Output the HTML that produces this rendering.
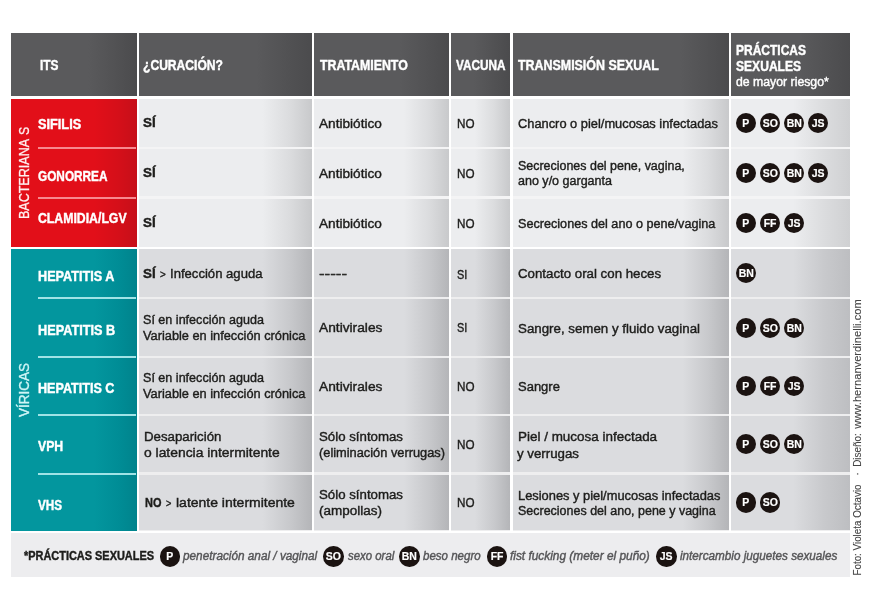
<!DOCTYPE html>
<html><head><meta charset="utf-8"><title>ITS</title><style>
html,body{margin:0;padding:0;background:#fff}
#c{will-change:transform;position:relative;width:875px;height:610px;overflow:hidden;background:#fff;font-family:"Liberation Sans",sans-serif}
#c div,#c span{position:absolute}
.t{white-space:nowrap;transform-origin:0 0;line-height:16px;height:16px;-webkit-text-stroke:0.42px currentColor}
.h{background:linear-gradient(to right,#5a5a5c 0%,#5a5a5c 55%,#4b4b4d 100%)}
.r{background:linear-gradient(to right,#e20f19 0%,#e20f19 66%,#d50f19 85%,#c60f19 100%)}
.v{background:linear-gradient(to right,#03969e 0%,#03969e 66%,#008d96 85%,#00838c 100%)}
.b{background:linear-gradient(to right,#ecedef 0%,#ecedef 68%,#c6c7c9 100%)}
.g{background:linear-gradient(to right,#dbdcdf 0%,#dbdcdf 68%,#b3b4b7 100%)}
.k{width:20.6px;height:20.6px;border-radius:50%;background:#1b1311;color:#fff;font-weight:700;font-size:11.5px;line-height:21.6px;text-align:center;-webkit-text-stroke:0.2px #fff}
.k i{font-style:normal;display:inline-block;position:static;transform:scaleX(.91)}

</style></head><body><div id="c">
<div class="" style="left:11.0px;top:33.2px;width:125.5px;height:63.1px;background:linear-gradient(to right,#5a5a5c 0%,#5a5a5c 61.4%,#4b4b4d 100%)"></div>
<div class="" style="left:139.0px;top:33.2px;width:172.6px;height:63.1px;background:linear-gradient(to right,#5a5a5c 0%,#5a5a5c 67.8%,#4b4b4d 100%)"></div>
<div class="" style="left:314.1px;top:33.2px;width:134.7px;height:63.1px;background:linear-gradient(to right,#5a5a5c 0%,#5a5a5c 63.8%,#4b4b4d 100%)"></div>
<div class="" style="left:451.4px;top:33.2px;width:58.6px;height:63.1px;background:linear-gradient(to right,#5a5a5c 0%,#5a5a5c 38.6%,#4b4b4d 100%)"></div>
<div class="" style="left:512.5px;top:33.2px;width:216.0px;height:63.1px;background:linear-gradient(to right,#5a5a5c 0%,#5a5a5c 77.5%,#4b4b4d 100%)"></div>
<div class="" style="left:731.0px;top:33.2px;width:118.5px;height:63.1px;background:linear-gradient(to right,#5a5a5c 0%,#5a5a5c 58.2%,#4b4b4d 100%)"></div>
<div class="r" style="left:11.0px;top:99.1px;width:125.5px;height:147.5px;"></div>
<div class="v" style="left:11.0px;top:249.0px;width:125.5px;height:281.5px;"></div>
<div class="" style="left:37.8px;top:146.8px;width:98.7px;height:2.0px;background:#f7898f"></div>
<div class="" style="left:37.8px;top:196.6px;width:98.7px;height:2.0px;background:#f7898f"></div>
<div class="" style="left:37.8px;top:297.4px;width:98.7px;height:2.0px;background:#a0e3e6"></div>
<div class="" style="left:37.8px;top:355.9px;width:98.7px;height:2.0px;background:#a0e3e6"></div>
<div class="" style="left:37.8px;top:414.2px;width:98.7px;height:2.0px;background:#a0e3e6"></div>
<div class="" style="left:37.8px;top:472.6px;width:98.7px;height:2.0px;background:#a0e3e6"></div>
<div class="" style="left:139.0px;top:99.1px;width:172.6px;height:147.5px;background:#f4f4f5"></div>
<div class="" style="left:139.0px;top:249.0px;width:172.6px;height:281.5px;background:#eeeeef"></div>
<div class="" style="left:314.1px;top:99.1px;width:134.7px;height:147.5px;background:#f4f4f5"></div>
<div class="" style="left:314.1px;top:249.0px;width:134.7px;height:281.5px;background:#eeeeef"></div>
<div class="" style="left:451.4px;top:99.1px;width:58.6px;height:147.5px;background:#f4f4f5"></div>
<div class="" style="left:451.4px;top:249.0px;width:58.6px;height:281.5px;background:#eeeeef"></div>
<div class="" style="left:512.5px;top:99.1px;width:216.0px;height:147.5px;background:#f4f4f5"></div>
<div class="" style="left:512.5px;top:249.0px;width:216.0px;height:281.5px;background:#eeeeef"></div>
<div class="" style="left:731.0px;top:99.1px;width:118.5px;height:147.5px;background:#f4f4f5"></div>
<div class="" style="left:731.0px;top:249.0px;width:118.5px;height:281.5px;background:#eeeeef"></div>
<div class="" style="left:139.0px;top:99.1px;width:172.6px;height:47.5px;background:linear-gradient(to right,#ecedef 0%,#ecedef 71.3%,#dbdcde 87.1%,#c8c9cb 100%)"></div>
<div class="" style="left:314.1px;top:99.1px;width:134.7px;height:47.5px;background:linear-gradient(to right,#ecedef 0%,#ecedef 66.7%,#dbdcde 85.0%,#c8c9cb 100%)"></div>
<div class="" style="left:451.4px;top:99.1px;width:58.6px;height:47.5px;background:linear-gradient(to right,#ecedef 0%,#ecedef 40.3%,#dbdcde 73.1%,#c8c9cb 100%)"></div>
<div class="" style="left:512.5px;top:99.1px;width:216.0px;height:47.5px;background:linear-gradient(to right,#ecedef 0%,#ecedef 78.5%,#dbdcde 90.3%,#c8c9cb 100%)"></div>
<div class="" style="left:731.0px;top:99.1px;width:118.5px;height:47.5px;background:linear-gradient(to right,#ecedef 0%,#ecedef 52.3%,#dbdcde 78.5%,#cfd0d2 100%)"></div>
<div class="" style="left:139.0px;top:148.9px;width:172.6px;height:47.4px;background:linear-gradient(to right,#ecedef 0%,#ecedef 71.3%,#dbdcde 87.1%,#c8c9cb 100%)"></div>
<div class="" style="left:314.1px;top:148.9px;width:134.7px;height:47.4px;background:linear-gradient(to right,#ecedef 0%,#ecedef 66.7%,#dbdcde 85.0%,#c8c9cb 100%)"></div>
<div class="" style="left:451.4px;top:148.9px;width:58.6px;height:47.4px;background:linear-gradient(to right,#ecedef 0%,#ecedef 40.3%,#dbdcde 73.1%,#c8c9cb 100%)"></div>
<div class="" style="left:512.5px;top:148.9px;width:216.0px;height:47.4px;background:linear-gradient(to right,#ecedef 0%,#ecedef 78.5%,#dbdcde 90.3%,#c8c9cb 100%)"></div>
<div class="" style="left:731.0px;top:148.9px;width:118.5px;height:47.4px;background:linear-gradient(to right,#ecedef 0%,#ecedef 52.3%,#dbdcde 78.5%,#cfd0d2 100%)"></div>
<div class="" style="left:139.0px;top:198.8px;width:172.6px;height:47.8px;background:linear-gradient(to right,#ecedef 0%,#ecedef 71.3%,#dbdcde 87.1%,#c8c9cb 100%)"></div>
<div class="" style="left:314.1px;top:198.8px;width:134.7px;height:47.8px;background:linear-gradient(to right,#ecedef 0%,#ecedef 66.7%,#dbdcde 85.0%,#c8c9cb 100%)"></div>
<div class="" style="left:451.4px;top:198.8px;width:58.6px;height:47.8px;background:linear-gradient(to right,#ecedef 0%,#ecedef 40.3%,#dbdcde 73.1%,#c8c9cb 100%)"></div>
<div class="" style="left:512.5px;top:198.8px;width:216.0px;height:47.8px;background:linear-gradient(to right,#ecedef 0%,#ecedef 78.5%,#dbdcde 90.3%,#c8c9cb 100%)"></div>
<div class="" style="left:731.0px;top:198.8px;width:118.5px;height:47.8px;background:linear-gradient(to right,#ecedef 0%,#ecedef 52.3%,#dbdcde 78.5%,#cfd0d2 100%)"></div>
<div class="" style="left:139.0px;top:249.0px;width:172.6px;height:48.4px;background:linear-gradient(to right,#dbdcdf 0%,#dbdcdf 71.3%,#c8c9cc 87.1%,#b4b5b8 100%)"></div>
<div class="" style="left:314.1px;top:249.0px;width:134.7px;height:48.4px;background:linear-gradient(to right,#dbdcdf 0%,#dbdcdf 66.7%,#c8c9cc 85.0%,#b4b5b8 100%)"></div>
<div class="" style="left:451.4px;top:249.0px;width:58.6px;height:48.4px;background:linear-gradient(to right,#dbdcdf 0%,#dbdcdf 40.3%,#c8c9cc 73.1%,#b4b5b8 100%)"></div>
<div class="" style="left:512.5px;top:249.0px;width:216.0px;height:48.4px;background:linear-gradient(to right,#dbdcdf 0%,#dbdcdf 78.5%,#c8c9cc 90.3%,#b4b5b8 100%)"></div>
<div class="" style="left:731.0px;top:249.0px;width:118.5px;height:48.4px;background:linear-gradient(to right,#dbdcdf 0%,#dbdcdf 52.3%,#c8c9cc 78.5%,#bdbec1 100%)"></div>
<div class="" style="left:139.0px;top:299.3px;width:172.6px;height:56.4px;background:linear-gradient(to right,#dbdcdf 0%,#dbdcdf 71.3%,#c8c9cc 87.1%,#b4b5b8 100%)"></div>
<div class="" style="left:314.1px;top:299.3px;width:134.7px;height:56.4px;background:linear-gradient(to right,#dbdcdf 0%,#dbdcdf 66.7%,#c8c9cc 85.0%,#b4b5b8 100%)"></div>
<div class="" style="left:451.4px;top:299.3px;width:58.6px;height:56.4px;background:linear-gradient(to right,#dbdcdf 0%,#dbdcdf 40.3%,#c8c9cc 73.1%,#b4b5b8 100%)"></div>
<div class="" style="left:512.5px;top:299.3px;width:216.0px;height:56.4px;background:linear-gradient(to right,#dbdcdf 0%,#dbdcdf 78.5%,#c8c9cc 90.3%,#b4b5b8 100%)"></div>
<div class="" style="left:731.0px;top:299.3px;width:118.5px;height:56.4px;background:linear-gradient(to right,#dbdcdf 0%,#dbdcdf 52.3%,#c8c9cc 78.5%,#bdbec1 100%)"></div>
<div class="" style="left:139.0px;top:358.0px;width:172.6px;height:56.3px;background:linear-gradient(to right,#dbdcdf 0%,#dbdcdf 71.3%,#c8c9cc 87.1%,#b4b5b8 100%)"></div>
<div class="" style="left:314.1px;top:358.0px;width:134.7px;height:56.3px;background:linear-gradient(to right,#dbdcdf 0%,#dbdcdf 66.7%,#c8c9cc 85.0%,#b4b5b8 100%)"></div>
<div class="" style="left:451.4px;top:358.0px;width:58.6px;height:56.3px;background:linear-gradient(to right,#dbdcdf 0%,#dbdcdf 40.3%,#c8c9cc 73.1%,#b4b5b8 100%)"></div>
<div class="" style="left:512.5px;top:358.0px;width:216.0px;height:56.3px;background:linear-gradient(to right,#dbdcdf 0%,#dbdcdf 78.5%,#c8c9cc 90.3%,#b4b5b8 100%)"></div>
<div class="" style="left:731.0px;top:358.0px;width:118.5px;height:56.3px;background:linear-gradient(to right,#dbdcdf 0%,#dbdcdf 52.3%,#c8c9cc 78.5%,#bdbec1 100%)"></div>
<div class="" style="left:139.0px;top:416.2px;width:172.6px;height:56.2px;background:linear-gradient(to right,#dbdcdf 0%,#dbdcdf 71.3%,#c8c9cc 87.1%,#b4b5b8 100%)"></div>
<div class="" style="left:314.1px;top:416.2px;width:134.7px;height:56.2px;background:linear-gradient(to right,#dbdcdf 0%,#dbdcdf 66.7%,#c8c9cc 85.0%,#b4b5b8 100%)"></div>
<div class="" style="left:451.4px;top:416.2px;width:58.6px;height:56.2px;background:linear-gradient(to right,#dbdcdf 0%,#dbdcdf 40.3%,#c8c9cc 73.1%,#b4b5b8 100%)"></div>
<div class="" style="left:512.5px;top:416.2px;width:216.0px;height:56.2px;background:linear-gradient(to right,#dbdcdf 0%,#dbdcdf 78.5%,#c8c9cc 90.3%,#b4b5b8 100%)"></div>
<div class="" style="left:731.0px;top:416.2px;width:118.5px;height:56.2px;background:linear-gradient(to right,#dbdcdf 0%,#dbdcdf 52.3%,#c8c9cc 78.5%,#bdbec1 100%)"></div>
<div class="" style="left:139.0px;top:474.8px;width:172.6px;height:55.7px;background:linear-gradient(to right,#dbdcdf 0%,#dbdcdf 71.3%,#c8c9cc 87.1%,#b4b5b8 100%)"></div>
<div class="" style="left:314.1px;top:474.8px;width:134.7px;height:55.7px;background:linear-gradient(to right,#dbdcdf 0%,#dbdcdf 66.7%,#c8c9cc 85.0%,#b4b5b8 100%)"></div>
<div class="" style="left:451.4px;top:474.8px;width:58.6px;height:55.7px;background:linear-gradient(to right,#dbdcdf 0%,#dbdcdf 40.3%,#c8c9cc 73.1%,#b4b5b8 100%)"></div>
<div class="" style="left:512.5px;top:474.8px;width:216.0px;height:55.7px;background:linear-gradient(to right,#dbdcdf 0%,#dbdcdf 78.5%,#c8c9cc 90.3%,#b4b5b8 100%)"></div>
<div class="" style="left:731.0px;top:474.8px;width:118.5px;height:55.7px;background:linear-gradient(to right,#dbdcdf 0%,#dbdcdf 52.3%,#c8c9cc 78.5%,#bdbec1 100%)"></div>
<div class="" style="left:11.0px;top:532.7px;width:838.5px;height:44.3px;background:#ededef"></div>
<div style="left:24.0px;top:178.7px;width:0;height:0"><span style="white-space:nowrap;left:0;top:0;font-size:15px;line-height:16px;color:#fff0f0;-webkit-text-stroke:0.3px currentColor;transform:translate(-50%,-50%) rotate(-90deg) scaleX(0.8366)">BACTERIANA</span></div>
<div style="left:24.0px;top:130.5px;width:0;height:0"><span style="white-space:nowrap;left:0;top:0;font-size:15px;line-height:16px;color:#fff0f0;-webkit-text-stroke:0.3px currentColor;transform:translate(-50%,-50%) rotate(-90deg) scaleX(0.8187)">S</span></div>
<div style="left:24.0px;top:390.45px;width:0;height:0"><span style="white-space:nowrap;left:0;top:0;font-size:15px;line-height:16px;color:#cff5f6;-webkit-text-stroke:0.3px currentColor;transform:translate(-50%,-50%) rotate(-90deg) scaleX(0.8981)">VÍRICAS</span></div>
<div style="left:857.8px;top:529.55px;width:0;height:0"><span style="white-space:nowrap;left:0;top:0;font-size:10px;line-height:12px;color:#444444;-webkit-text-stroke:0.1px currentColor;transform:translate(-50%,-50%) rotate(-90deg) scaleX(0.9832)">Foto: Violeta Octavio</span></div>
<div style="left:857.8px;top:474.3px;width:0;height:0"><span style="white-space:nowrap;left:0;top:0;font-size:10px;line-height:12px;color:#444444;-webkit-text-stroke:0.1px currentColor;transform:translate(-50%,-50%) rotate(-90deg) scaleX(1.0000)">·</span></div>
<div style="left:857.8px;top:450.1px;width:0;height:0"><span style="white-space:nowrap;left:0;top:0;font-size:10px;line-height:12px;color:#444444;-webkit-text-stroke:0.1px currentColor;transform:translate(-50%,-50%) rotate(-90deg) scaleX(0.9910)">Diseño:</span></div>
<div style="left:857.8px;top:364.45px;width:0;height:0"><span style="white-space:nowrap;left:0;top:0;font-size:10px;line-height:12px;color:#444444;-webkit-text-stroke:0.1px currentColor;transform:translate(-50%,-50%) rotate(-90deg) scaleX(1.1147)">www.hernanverdinelli.com</span></div>
<span class="t" style="left:39.6px;top:57.05px;font-size:14px;color:#ffffff;transform:scaleX(0.8494);font-weight:700;">ITS</span>
<span class="t" style="left:143.1px;top:57.05px;font-size:14px;color:#ffffff;transform:scaleX(0.8644);font-weight:700;">¿CURACIÓN?</span>
<span class="t" style="left:319.6px;top:57.05px;font-size:14px;color:#ffffff;transform:scaleX(0.8820);font-weight:700;">TRATAMIENTO</span>
<span class="t" style="left:455.9px;top:57.05px;font-size:14px;color:#ffffff;transform:scaleX(0.8410);font-weight:700;">VACUNA</span>
<span class="t" style="left:517.6px;top:57.05px;font-size:14px;color:#ffffff;transform:scaleX(0.8873);font-weight:700;">TRANSMISIÓN SEXUAL</span>
<span class="t" style="left:736.2px;top:42.25px;font-size:14px;color:#ffffff;transform:scaleX(0.8571);font-weight:700;">PRÁCTICAS</span>
<span class="t" style="left:736.2px;top:58.05px;font-size:14px;color:#ffffff;transform:scaleX(0.8626);font-weight:700;">SEXUALES</span>
<span class="t" style="left:736.0px;top:73.87px;font-size:12.5px;color:#ffffff;transform:scaleX(0.9820);">de mayor riesgo*</span>
<span class="t" style="left:38.3px;top:116.35px;font-size:14px;color:#ffffff;transform:scaleX(0.9104);font-weight:700;">SIFILIS</span>
<span class="t" style="left:38.3px;top:167.55px;font-size:14px;color:#ffffff;transform:scaleX(0.8429);font-weight:700;">GONORREA</span>
<span class="t" style="left:38.3px;top:209.65px;font-size:14px;color:#ffffff;transform:scaleX(0.8763);font-weight:700;">CLAMIDIA/LGV</span>
<span class="t" style="left:38.3px;top:267.65px;font-size:14px;color:#ffffff;transform:scaleX(0.9038);font-weight:700;">HEPATITIS A</span>
<span class="t" style="left:38.3px;top:321.55px;font-size:14px;color:#ffffff;transform:scaleX(0.9066);font-weight:700;">HEPATITIS B</span>
<span class="t" style="left:38.3px;top:380.05px;font-size:14px;color:#ffffff;transform:scaleX(0.8983);font-weight:700;">HEPATITIS C</span>
<span class="t" style="left:38.3px;top:438.35px;font-size:14px;color:#ffffff;transform:scaleX(0.8751);font-weight:700;">VPH</span>
<span class="t" style="left:38.3px;top:496.95px;font-size:14px;color:#ffffff;transform:scaleX(0.8369);font-weight:700;">VHS</span>
<span class="t" style="left:143.3px;top:115.35px;font-size:13.7px;color:#1d1d1b;transform:scaleX(0.9739);font-weight:700;">SÍ</span>
<span class="t" style="left:143.3px;top:165.25px;font-size:13.7px;color:#1d1d1b;transform:scaleX(0.9739);font-weight:700;">SÍ</span>
<span class="t" style="left:143.3px;top:215.25px;font-size:13.7px;color:#1d1d1b;transform:scaleX(0.9739);font-weight:700;">SÍ</span>
<span class="t" style="left:143.3px;top:266.45px;font-size:13.7px;color:#1d1d1b;transform:scaleX(0.9739);font-weight:700;">SÍ</span>
<span class="t" style="left:159.7px;top:267.04px;font-size:10px;color:#1d1d1b;transform:scaleX(0.9754);">></span>
<span class="t" style="left:170.0px;top:266.45px;font-size:13.7px;color:#1d1d1b;transform:scaleX(0.9570);">Infección aguda</span>
<span class="t" style="left:143.3px;top:312.15px;font-size:13.7px;color:#1d1d1b;transform:scaleX(0.9183);">Sí en infección aguda</span>
<span class="t" style="left:143.3px;top:328.05px;font-size:13.7px;color:#1d1d1b;transform:scaleX(0.9334);">Variable en infección crónica</span>
<span class="t" style="left:143.3px;top:370.15px;font-size:13.7px;color:#1d1d1b;transform:scaleX(0.9183);">Sí en infección aguda</span>
<span class="t" style="left:143.3px;top:386.05px;font-size:13.7px;color:#1d1d1b;transform:scaleX(0.9334);">Variable en infección crónica</span>
<span class="t" style="left:143.9px;top:429.25px;font-size:13.7px;color:#1d1d1b;transform:scaleX(0.9688);">Desaparición</span>
<span class="t" style="left:143.5px;top:445.05px;font-size:13.7px;color:#1d1d1b;transform:scaleX(1.0133);">o latencia intermitente</span>
<span class="t" style="left:144.6px;top:495.35px;font-size:13.7px;color:#1d1d1b;transform:scaleX(0.7988);font-weight:700;">NO</span>
<span class="t" style="left:165.9px;top:495.94px;font-size:10px;color:#1d1d1b;transform:scaleX(0.9070);">></span>
<span class="t" style="left:175.9px;top:495.35px;font-size:13.7px;color:#1d1d1b;transform:scaleX(1.0213);">latente intermitente</span>
<span class="t" style="left:318.9px;top:115.75px;font-size:13.7px;color:#1d1d1b;transform:scaleX(0.9959);">Antibiótico</span>
<span class="t" style="left:318.9px;top:165.55px;font-size:13.7px;color:#1d1d1b;transform:scaleX(0.9959);">Antibiótico</span>
<span class="t" style="left:318.9px;top:215.65px;font-size:13.7px;color:#1d1d1b;transform:scaleX(0.9959);">Antibiótico</span>
<span class="t" style="left:319.4px;top:266.45px;font-size:13.7px;color:#1d1d1b;transform:scaleX(1.2326);">-----</span>
<span class="t" style="left:318.9px;top:320.45px;font-size:13.7px;color:#1d1d1b;transform:scaleX(1.0041);">Antivirales</span>
<span class="t" style="left:318.9px;top:378.75px;font-size:13.7px;color:#1d1d1b;transform:scaleX(1.0041);">Antivirales</span>
<span class="t" style="left:319.4px;top:429.45px;font-size:13.7px;color:#1d1d1b;transform:scaleX(0.9685);">Sólo síntomas</span>
<span class="t" style="left:319.4px;top:445.05px;font-size:13.7px;color:#1d1d1b;transform:scaleX(0.9357);">(eliminación verrugas)</span>
<span class="t" style="left:319.4px;top:487.25px;font-size:13.7px;color:#1d1d1b;transform:scaleX(0.9685);">Sólo síntomas</span>
<span class="t" style="left:319.4px;top:502.65px;font-size:13.7px;color:#1d1d1b;transform:scaleX(0.9843);">(ampollas)</span>
<span class="t" style="left:456.7px;top:115.75px;font-size:13.7px;color:#1d1d1b;transform:scaleX(0.8524);">NO</span>
<span class="t" style="left:456.7px;top:165.55px;font-size:13.7px;color:#1d1d1b;transform:scaleX(0.8524);">NO</span>
<span class="t" style="left:456.7px;top:215.65px;font-size:13.7px;color:#1d1d1b;transform:scaleX(0.8524);">NO</span>
<span class="t" style="left:456.7px;top:266.75px;font-size:13.7px;color:#1d1d1b;transform:scaleX(0.7961);">SI</span>
<span class="t" style="left:456.7px;top:320.45px;font-size:13.7px;color:#1d1d1b;transform:scaleX(0.7961);">SI</span>
<span class="t" style="left:456.7px;top:378.75px;font-size:13.7px;color:#1d1d1b;transform:scaleX(0.8524);">NO</span>
<span class="t" style="left:456.7px;top:436.85px;font-size:13.7px;color:#1d1d1b;transform:scaleX(0.8524);">NO</span>
<span class="t" style="left:456.7px;top:495.45px;font-size:13.7px;color:#1d1d1b;transform:scaleX(0.8524);">NO</span>
<span class="t" style="left:517.5px;top:115.55px;font-size:13.7px;color:#1d1d1b;transform:scaleX(0.9383);">Chancro o piel/mucosas infectadas</span>
<span class="t" style="left:517.5px;top:157.65px;font-size:13.7px;color:#1d1d1b;transform:scaleX(0.9095);">Secreciones del pene, vagina,</span>
<span class="t" style="left:517.5px;top:173.45px;font-size:13.7px;color:#1d1d1b;transform:scaleX(0.9148);">ano y/o garganta</span>
<span class="t" style="left:517.5px;top:215.65px;font-size:13.7px;color:#1d1d1b;transform:scaleX(0.9226);">Secreciones del ano o pene/vagina</span>
<span class="t" style="left:517.5px;top:266.35px;font-size:13.7px;color:#1d1d1b;transform:scaleX(0.9695);">Contacto oral con heces</span>
<span class="t" style="left:517.5px;top:320.85px;font-size:13.7px;color:#1d1d1b;transform:scaleX(0.9723);">Sangre, semen y fluido vaginal</span>
<span class="t" style="left:517.5px;top:378.75px;font-size:13.7px;color:#1d1d1b;transform:scaleX(0.9492);">Sangre</span>
<span class="t" style="left:517.6px;top:429.25px;font-size:13.7px;color:#1d1d1b;transform:scaleX(0.9829);">Piel / mucosa infectada</span>
<span class="t" style="left:517.4px;top:445.85px;font-size:13.7px;color:#1d1d1b;transform:scaleX(0.9702);">y verrugas</span>
<span class="t" style="left:517.6px;top:487.65px;font-size:13.7px;color:#1d1d1b;transform:scaleX(0.9400);">Lesiones y piel/mucosas infectadas</span>
<span class="t" style="left:517.6px;top:503.45px;font-size:13.7px;color:#1d1d1b;transform:scaleX(0.9116);">Secreciones del ano, pene y vagina</span>
<span class="t" style="left:23.9px;top:548.04px;font-size:12px;color:#1d1d1b;transform:scaleX(0.9111);font-weight:700;">*PRÁCTICAS SEXUALES</span>
<span class="t" style="left:183.3px;top:547.87px;font-size:12.5px;color:#555557;transform:scaleX(0.9420);font-style:italic;">penetración anal / vaginal</span>
<span class="t" style="left:347.5px;top:547.87px;font-size:12.5px;color:#555557;transform:scaleX(0.9126);font-style:italic;">sexo oral</span>
<span class="t" style="left:423.3px;top:547.87px;font-size:12.5px;color:#555557;transform:scaleX(0.9223);font-style:italic;">beso negro</span>
<span class="t" style="left:510.3px;top:547.87px;font-size:12.5px;color:#555557;transform:scaleX(0.9491);font-style:italic;">fist fucking (meter el puño)</span>
<span class="t" style="left:679.7px;top:547.87px;font-size:12.5px;color:#555557;transform:scaleX(0.9354);font-style:italic;">intercambio juguetes sexuales</span>
<div class="k" style="left:735.7px;top:112.7px"><i>P</i></div>
<div class="k" style="left:759.7px;top:112.7px"><i>SO</i></div>
<div class="k" style="left:783.7px;top:112.7px"><i>BN</i></div>
<div class="k" style="left:807.7px;top:112.7px"><i>JS</i></div>
<div class="k" style="left:735.7px;top:162.7px"><i>P</i></div>
<div class="k" style="left:759.7px;top:162.7px"><i>SO</i></div>
<div class="k" style="left:783.7px;top:162.7px"><i>BN</i></div>
<div class="k" style="left:807.7px;top:162.7px"><i>JS</i></div>
<div class="k" style="left:735.7px;top:212.7px"><i>P</i></div>
<div class="k" style="left:759.7px;top:212.7px"><i>FF</i></div>
<div class="k" style="left:783.7px;top:212.7px"><i>JS</i></div>
<div class="k" style="left:735.7px;top:262.8px"><i>BN</i></div>
<div class="k" style="left:735.7px;top:317.5px"><i>P</i></div>
<div class="k" style="left:759.7px;top:317.5px"><i>SO</i></div>
<div class="k" style="left:783.7px;top:317.5px"><i>BN</i></div>
<div class="k" style="left:735.7px;top:375.5px"><i>P</i></div>
<div class="k" style="left:759.7px;top:375.5px"><i>FF</i></div>
<div class="k" style="left:783.7px;top:375.5px"><i>JS</i></div>
<div class="k" style="left:735.7px;top:433.8px"><i>P</i></div>
<div class="k" style="left:759.7px;top:433.8px"><i>SO</i></div>
<div class="k" style="left:783.7px;top:433.8px"><i>BN</i></div>
<div class="k" style="left:735.7px;top:492.4px"><i>P</i></div>
<div class="k" style="left:759.7px;top:492.4px"><i>SO</i></div>
<div class="k" style="left:159.8px;top:546.2px"><i>P</i></div>
<div class="k" style="left:323.0px;top:546.2px"><i>SO</i></div>
<div class="k" style="left:399.4px;top:546.2px"><i>BN</i></div>
<div class="k" style="left:486.5px;top:546.2px"><i>FF</i></div>
<div class="k" style="left:656.0px;top:546.2px"><i>JS</i></div>
</div></body></html>
